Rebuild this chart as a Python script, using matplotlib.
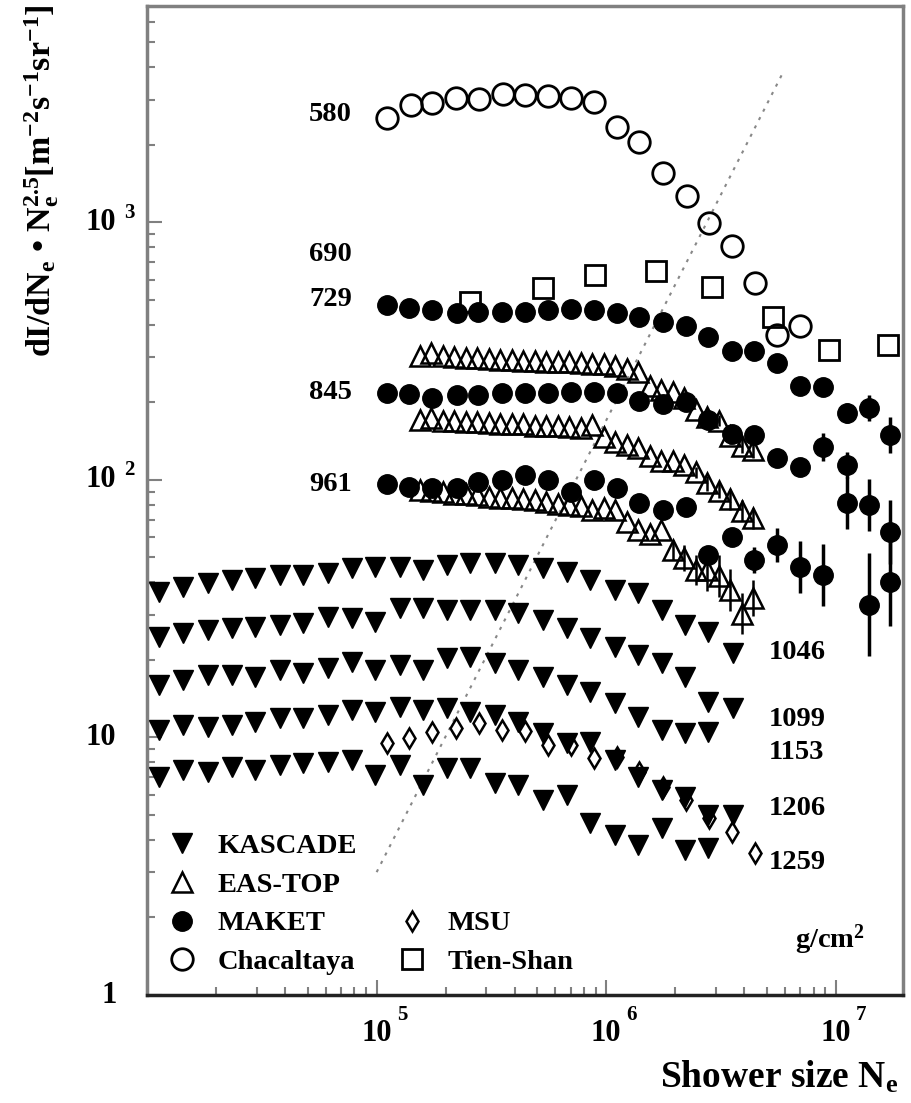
import matplotlib
matplotlib.use("Agg")
import matplotlib.pyplot as plt
import matplotlib.transforms as mtransforms
from matplotlib.lines import Line2D
import numpy as np

plt.rcParams['font.family'] = ['Liberation Serif', 'DejaVu Serif']
plt.rcParams['font.weight'] = 'bold'
plt.rcParams['mathtext.fontset'] = 'custom'
plt.rcParams['mathtext.rm'] = 'Liberation Serif:bold'
plt.rcParams['mathtext.it'] = 'Liberation Serif:bold'
plt.rcParams['mathtext.bf'] = 'Liberation Serif:bold'

# ---- dados ----
# KASCADE (5 profundidades)
kascade_ne = [1.13e4, 1.43e4, 1.84e4, 2.34e4, 2.94e4, 3.78e4, 4.76e4, 6.12e4, 7.78e4, 9.80e4,
              1.26e5, 1.59e5, 2.02e5, 2.54e5, 3.27e5, 4.12e5, 5.29e5, 6.73e5, 8.48e5, 1.09e6,
              1.37e6, 1.75e6, 2.20e6, 2.77e6, 3.56e6]
kascade_1046 = [36.7, 38.4, 39.8, 40.9, 41.6, 42.8, 42.8, 43.5, 45.5, 45.9, 45.9, 44.7, 46.8,
                47.6, 47.6, 46.8, 45.5, 43.9, 40.9, 37.4, 36.4, 31.3, 27.3, 25.7, 21.3]
kascade_1099 = [24.6, 25.5, 26.2, 26.6, 26.9, 27.3, 27.8, 29.4, 29.1, 28.1, 31.8, 31.8, 31.3,
                31.3, 31.3, 30.4, 28.6, 26.6, 24.3, 22.5, 20.9, 19.5, 17.2, 13.7, 13.0]
kascade_1153 = [16.0, 16.7, 17.5, 17.5, 17.2, 18.3, 17.8, 18.6, 19.6, 18.3, 19.1, 18.3, 20.4,
                20.5, 19.5, 18.3, 17.2, 16.0, 15.0, 13.6, 12.0, 10.7, 10.4, 10.5]
kascade_1206 = [10.7, 11.2, 11.0, 11.2, 11.5, 11.9, 11.9, 12.2, 12.8, 12.6, 13.1, 12.8, 13.0,
                12.6, 12.2, 11.5, 10.4, 9.52, 9.61, 8.18, 7.02, 6.25, 5.87, 5.00, 5.00]
kascade_1259 = [7.02, 7.48, 7.35, 7.68, 7.48, 7.82, 7.96, 8.03, 8.18, 7.15, 7.82, 6.54, 7.61,
                7.61, 6.66, 6.54, 5.72, 5.98, 4.66, 4.18, 3.82, 4.45, 3.66, 3.72]

# EAS-TOP (3 profundidades)
eastop_ne = [1.54e5, 1.73e5, 1.94e5, 2.18e5, 2.44e5, 2.74e5, 3.08e5, 3.45e5, 3.87e5, 4.35e5,
             4.88e5, 5.48e5, 6.15e5, 6.90e5, 7.74e5, 8.69e5, 9.75e5, 1.09e6, 1.23e6, 1.38e6,
             1.55e6, 1.74e6, 1.95e6, 2.19e6, 2.46e6, 2.76e6, 3.09e6, 3.47e6, 3.89e6, 4.37e6]
eastop_a = [303, 311, 303, 300, 298, 298, 295, 292, 292, 290, 290, 287, 287, 287, 285, 282,
            282, 277, 270, 263, 232, 224, 220, 208, 187, 176, 170, 148, 136, 131]
eastop_b = [171, 174, 170, 170, 168, 168, 167, 165, 165, 165, 162, 162, 162, 161, 159, 164,
            147, 141, 137, 133, 124, 118, 118, 114, 107, 97, 91, 84, 76, 71]
eastop_c = [91.5, 90.7, 89.8, 88.2, 88.2, 87.4, 85.9, 85.1, 85.1, 84.4, 83.6, 82.2, 80.7, 80.0,
            79.3, 76.5, 77.9, 76.5, 68.7, 63.9, 61.7, 63.9, 53.5, 49.8, 44.7, 44.7, 42.4, 37.4,
            30.2, 34.8]
eastop_a_err = [0, 0, 0, 0, 0, 0, 0, 0, 0, 0, 0, 0, 0, 0, 0, 0, 0, 0, 0, 0, 0, 0, 0, 0, 0,
                0.02, 0.02, 0.03, 0.03, 0.03]
eastop_b_err = [0, 0, 0, 0, 0, 0, 0, 0, 0, 0, 0, 0, 0, 0, 0, 0, 0, 0, 0, 0, 0, 0, 0, 0,
                0.02, 0.03, 0.03, 0.04, 0.04, 0.04]
eastop_c_err = [0, 0, 0, 0, 0, 0, 0, 0, 0, 0, 0, 0, 0, 0, 0, 0, 0, 0, 0, 0, 0, 0,
                0.04, 0.05, 0.06, 0.08, 0.08, 0.08, 0.08, 0.07]

# MAKET (3 profundidades)
maket_ne = [1.11e5, 1.39e5, 1.75e5, 2.23e5, 2.76e5, 3.51e5, 4.42e5, 5.56e5, 7.00e5, 8.82e5,
            1.11e6, 1.39e6, 1.76e6, 2.22e6, 2.77e6, 3.52e6, 4.39e6, 5.54e6, 6.97e6, 8.78e6,
            1.12e7, 1.39e7, 1.72e7]
maket_729 = [478, 466, 457, 445, 449, 449, 449, 457, 461, 457, 445, 430, 411, 396, 359, 317,
             317, 285, 232, 230, 182, 190, 150]
maket_845 = [218, 216, 208, 214, 214, 218, 218, 218, 220, 220, 218, 203, 197, 201, 171, 151,
             150, 122, 112, 134, 114, 80, 62.8]
maket_961 = [96.5, 94.0, 93.1, 93.1, 98.2, 100, 105, 100, 89.9, 100, 93.1, 81.4, 76.4, 78.5,
             51.2, 60.1, 48.9, 55.9, 45.9, 42.8, 81.4, 32.7, 40.2]
maket_729_err = [0, 0, 0, 0, 0, 0, 0, 0, 0, 0, 0, 0, 0, 0, 0, 0, 0, 0, 0, 0, 0.04, 0.05, 0.07]
maket_845_err = [0, 0, 0, 0, 0, 0, 0, 0, 0, 0, 0, 0, 0, 0, 0, 0, 0, 0.02, 0.03, 0.055, 0.05,
                 0.10, 0.125]
maket_961_err = [0, 0, 0, 0, 0, 0, 0, 0, 0, 0, 0, 0, 0, 0, 0.03, 0.03, 0.05, 0.066, 0.10,
                 0.12, 0.10, 0.20, 0.17]

# Chacaltaya (580 g/cm2)
chac_ne = [1.11e5, 1.41e5, 1.75e5, 2.21e5, 2.78e5, 3.54e5, 4.42e5, 5.56e5, 7.00e5, 8.83e5,
           1.11e6, 1.39e6, 1.76e6, 2.24e6, 2.80e6, 3.52e6, 4.44e6, 5.53e6, 6.97e6]
chac_val = [2546, 2858, 2911, 3043, 3018, 3157, 3127, 3098, 3043, 2937, 2350, 2055, 1557,
            1268, 995, 811, 582, 366, 396]

# Tien-Shan (690 g/cm2)
tien_ne = [2.54e5, 5.28e5, 8.9e5, 1.64e6, 2.88e6, 5.31e6, 9.31e6, 1.69e7]
tien_val = [491, 557, 625, 648, 562, 430, 320, 334]

# MSU
msu_ne = [1.11e5, 1.39e5, 1.75e5, 2.21e5, 2.78e5, 3.51e5, 4.42e5, 5.56e5, 7.00e5, 8.82e5,
          1.11e6, 1.39e6, 1.76e6, 2.22e6, 2.80e6, 3.52e6, 4.44e6]
msu_val = [9.52, 9.96, 10.5, 10.89, 11.38, 10.69, 10.6, 9.35, 9.35, 8.32, 8.40, 7.35, 6.42,
           5.72, 4.87, 4.30, 3.56]

# linha pontilhada (joelho)
knee_ne = [1.0e5, 5.9e6]
knee_val = [3.0, 3840]

labels_left = ['580', '690', '729', '845', '961']
labels_left_y = [2614, 748, 500, 218, 95.7]
labels_right = ['1046', '1099', '1153', '1206', '1259']
labels_right_y = [21.3, 11.7, 8.71, 5.32, 3.28]


def log_err(vals, errs):
    v = np.array(vals, dtype=float)
    e = np.array(errs, dtype=float)
    return [v - v * 10 ** (-e), v * 10 ** e - v]


fig = plt.figure(figsize=(9.12, 11.03), dpi=100)
ax = fig.add_axes([0.1612, 0.0979, 0.8289, 0.8967])
ax.set_xscale('log')
ax.set_yscale('log')
ax.set_xlim(1e4, 1.96e7)
ax.set_ylim(1, 6930)

ax.plot(knee_ne, knee_val, color='#888888', lw=1.5, ls=(0, (1.5, 3)), zorder=1)

tri_kw = dict(ls='none', marker='v', ms=14, color='black', zorder=3)
h_kas, = ax.plot(kascade_ne, kascade_1046, **tri_kw)
for serie in [kascade_1099, kascade_1153, kascade_1206, kascade_1259]:
    ax.plot(kascade_ne[:len(serie)], serie, **tri_kw)

eas_kw = dict(ls='none', marker='^', ms=14, mfc='none', mec='black', mew=1.8, zorder=2)
for serie, err in [(eastop_a, eastop_a_err), (eastop_b, eastop_b_err), (eastop_c, eastop_c_err)]:
    ax.errorbar(eastop_ne, serie, yerr=log_err(serie, err), fmt='none', ecolor='black',
                elinewidth=1.8, capsize=0, zorder=2)
    h_eas, = ax.plot(eastop_ne, serie, **eas_kw)

mak_kw = dict(ls='none', marker='o', ms=14, color='black', zorder=4)
for serie, err in [(maket_729, maket_729_err), (maket_845, maket_845_err), (maket_961, maket_961_err)]:
    ax.errorbar(maket_ne, serie, yerr=log_err(serie, err), fmt='none', ecolor='black',
                elinewidth=2.5, capsize=0, zorder=4)
    h_mak, = ax.plot(maket_ne, serie, **mak_kw)

h_chac, = ax.plot(chac_ne, chac_val, ls='none', marker='o', ms=15.5, mfc='none', mec='black',
                  mew=2.0, zorder=3)
h_tien, = ax.plot(tien_ne, tien_val, ls='none', marker='s', ms=14.5, mfc='none', mec='black',
                  mew=2.0, zorder=3)
h_msu, = ax.plot(msu_ne, msu_val, ls='none', marker='d', ms=10.5, mfc='none', mec='black',
                 mew=1.8, zorder=3)

# rótulos de profundidade
for txt, yv in zip(labels_left, labels_left_y):
    ax.text(7.8e4, yv, txt, ha='right', va='center', fontsize=20.5, fontweight='bold')
for txt, yv in zip(labels_right, labels_right_y):
    ax.text(5.1e6, yv, txt, ha='left', va='center', fontsize=20.5, fontweight='bold')
ax.text(0.95, 0.056, 'g/cm$^2$', transform=ax.transAxes, ha='right', va='center', fontsize=20.5)

# eixos
for lado in ['left', 'top', 'right']:
    ax.spines[lado].set_color('#808080')
    ax.spines[lado].set_linewidth(2.5)
ax.spines['bottom'].set_color('#222222')
ax.spines['bottom'].set_linewidth(2.5)
ax.tick_params(which='both', direction='in', top=False, right=False,
               labelbottom=False, labelleft=False, color='#808080', width=1.5)
ax.tick_params(which='major', length=11)
ax.tick_params(which='minor', length=5.5)

trans_x = mtransforms.blended_transform_factory(ax.transData, ax.transAxes)
for e in [5, 6, 7]:
    ax.annotate('10', xy=(10 ** e, 0), xycoords=trans_x, xytext=(0, -28),
                textcoords='offset points', ha='center', va='center', fontsize=22)
    ax.annotate(str(e), xy=(10 ** e, 0), xycoords=trans_x, xytext=(14.5, -14.5),
                textcoords='offset points', ha='left', va='center', fontsize=15)

trans_y = mtransforms.blended_transform_factory(ax.transAxes, ax.transData)
for e, txt in [(0, '1'), (1, '10'), (2, '10'), (3, '10')]:
    ax.annotate(txt, xy=(0, 10 ** e), xycoords=trans_y, xytext=(-22, 0),
                textcoords='offset points', ha='right', va='center', fontsize=22)
    if e >= 2:
        ax.annotate(str(e), xy=(0, 10 ** e), xycoords=trans_y, xytext=(-16.5, 7),
                    textcoords='offset points', ha='left', va='center', fontsize=15)

fig.text(0.046, 0.996, r'dI/dN$_{e}$ • N$_{e}^{2.5}$[m$^{-2}$s$^{-1}$sr$^{-1}$]',
         rotation=90, ha='center', va='top', fontsize=24.5)
fig.text(0.985, 0.023, 'Shower size N$_{e}$', ha='right', va='center', fontsize=27)

# legenda
vazio = Line2D([], [], ls='none', marker='none')
handles = [h_kas, h_eas, h_mak, h_chac, vazio, vazio, h_msu, h_tien]
nomes = ['KASCADE', 'EAS-TOP', 'MAKET', 'Chacaltaya', ' ', ' ', 'MSU', 'Tien-Shan']
ax.legend(handles, nomes, ncol=2, loc='lower left', bbox_to_anchor=(0.027, 0.02),
          frameon=False, fontsize=20.5, handlelength=1.0, handletextpad=0.75,
          columnspacing=1.45, labelspacing=0.45, borderpad=0, borderaxespad=0)

fig.savefig('out.png', dpi=100)
